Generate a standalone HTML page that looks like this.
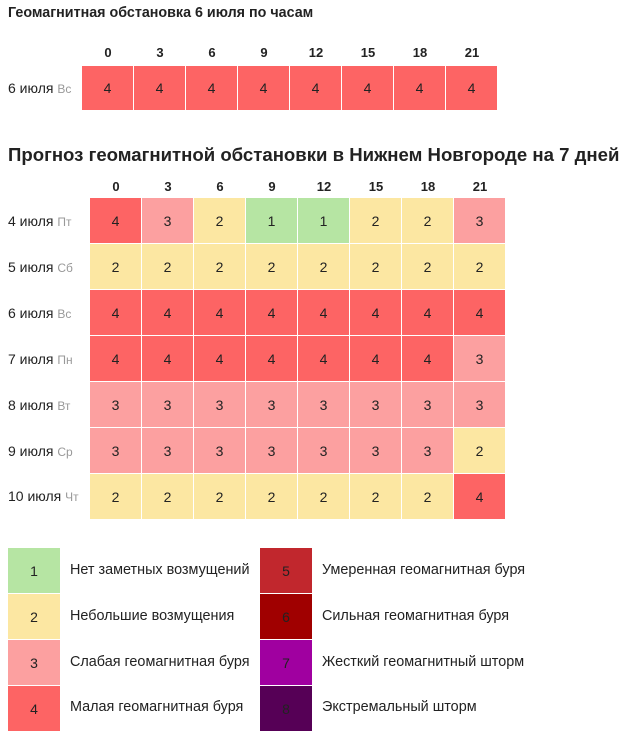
<!DOCTYPE html>
<html><head><meta charset="utf-8"><style>
body{margin:0;width:643px;height:740px;background:#fff;font-family:"Liberation Sans",sans-serif;position:relative;overflow:hidden;color:#222}
.a{position:absolute;white-space:nowrap}
.t1{left:8px;top:5px;font-size:14.3px;font-weight:bold}
.t2{left:8px;top:144px;font-size:18.6px;font-weight:bold}
.hdr{display:grid;grid-template-columns:repeat(8,52px);font-weight:bold;font-size:13px;text-align:center}
.g{display:grid;grid-template-columns:repeat(8,51px);column-gap:1px;row-gap:1px;font-size:14px}
.g div{display:flex;align-items:center;justify-content:center}
.c1{background:#b6e5a3}.c2{background:#fce7a2}.c3{background:#fca0a0}.c4{background:#fd6464}
.c5{background:#c1272d}.c6{background:#a00000}.c7{background:#a000a0}.c8{background:#560056}
.lab{font-size:14px;left:8px}
.lab span{color:#999;font-size:12px}
.lg{display:grid;grid-template-columns:52px;row-gap:1px;font-size:14px}
.lg div{height:45px;display:flex;align-items:center;justify-content:center}
.lt{font-size:14.4px}
</style></head><body>
<div class="a t1">Геомагнитная обстановка 6 июля по часам</div>
<div class="a hdr" style="left:82px;top:45px"><div>0</div><div>3</div><div>6</div><div>9</div><div>12</div><div>15</div><div>18</div><div>21</div></div>
<div class="a lab" style="top:80px">6 июля <span>Вс</span></div>
<div class="a g" style="left:82px;top:66px;grid-auto-rows:44px">
<div class="c4">4</div><div class="c4">4</div><div class="c4">4</div><div class="c4">4</div><div class="c4">4</div><div class="c4">4</div><div class="c4">4</div><div class="c4">4</div>
</div>
<div class="a t2">Прогноз геомагнитной обстановки в Нижнем Новгороде на 7 дней</div>
<div class="a hdr" style="left:90px;top:179px"><div>0</div><div>3</div><div>6</div><div>9</div><div>12</div><div>15</div><div>18</div><div>21</div></div>
<div class="a lab" style="top:213px">4 июля <span>Пт</span></div>
<div class="a lab" style="top:259px">5 июля <span>Сб</span></div>
<div class="a lab" style="top:305px">6 июля <span>Вс</span></div>
<div class="a lab" style="top:351px">7 июля <span>Пн</span></div>
<div class="a lab" style="top:397px">8 июля <span>Вт</span></div>
<div class="a lab" style="top:443px">9 июля <span>Ср</span></div>
<div class="a lab" style="top:488px">10 июля <span>Чт</span></div>
<div class="a g" style="left:90px;top:198px;grid-auto-rows:45px">
<div class="c4">4</div><div class="c3">3</div><div class="c2">2</div><div class="c1">1</div><div class="c1">1</div><div class="c2">2</div><div class="c2">2</div><div class="c3">3</div>
<div class="c2">2</div><div class="c2">2</div><div class="c2">2</div><div class="c2">2</div><div class="c2">2</div><div class="c2">2</div><div class="c2">2</div><div class="c2">2</div>
<div class="c4">4</div><div class="c4">4</div><div class="c4">4</div><div class="c4">4</div><div class="c4">4</div><div class="c4">4</div><div class="c4">4</div><div class="c4">4</div>
<div class="c4">4</div><div class="c4">4</div><div class="c4">4</div><div class="c4">4</div><div class="c4">4</div><div class="c4">4</div><div class="c4">4</div><div class="c3">3</div>
<div class="c3">3</div><div class="c3">3</div><div class="c3">3</div><div class="c3">3</div><div class="c3">3</div><div class="c3">3</div><div class="c3">3</div><div class="c3">3</div>
<div class="c3">3</div><div class="c3">3</div><div class="c3">3</div><div class="c3">3</div><div class="c3">3</div><div class="c3">3</div><div class="c3">3</div><div class="c2">2</div>
<div class="c2">2</div><div class="c2">2</div><div class="c2">2</div><div class="c2">2</div><div class="c2">2</div><div class="c2">2</div><div class="c2">2</div><div class="c4">4</div>
</div>
<div class="a lg" style="left:8px;top:548px"><div class="c1">1</div><div class="c2">2</div><div class="c3">3</div><div class="c4">4</div></div>
<div class="a lg" style="left:260px;top:548px"><div class="c5">5</div><div class="c6">6</div><div class="c7">7</div><div class="c8">8</div></div>
<div class="a lt" style="left:70px;top:562px">Нет заметных возмущений</div>
<div class="a lt" style="left:70px;top:608px">Небольшие возмущения</div>
<div class="a lt" style="left:70px;top:654px">Слабая геомагнитная буря</div>
<div class="a lt" style="left:70px;top:699px">Малая геомагнитная буря</div>
<div class="a lt" style="left:322px;top:562px">Умеренная геомагнитная буря</div>
<div class="a lt" style="left:322px;top:608px">Сильная геомагнитная буря</div>
<div class="a lt" style="left:322px;top:654px">Жесткий геомагнитный шторм</div>
<div class="a lt" style="left:322px;top:699px">Экстремальный шторм</div>
</body></html>
